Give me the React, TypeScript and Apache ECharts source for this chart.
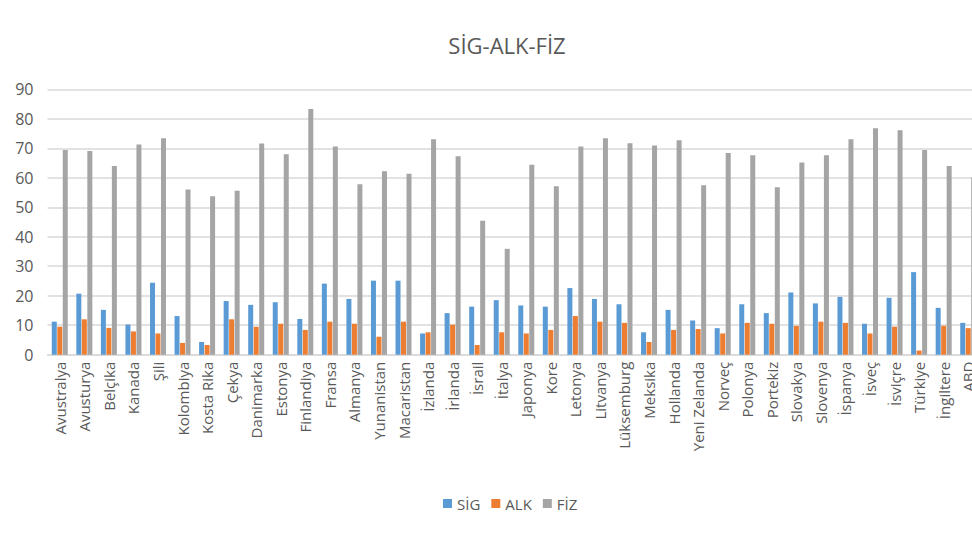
import React, { useEffect, useRef } from "react";
import * as echarts from "echarts";

const categories = [
  "Avustralya", "Avusturya", "Belçika", "Kanada", "Şili", "Kolombiya", "Kosta Rika", "Çekya",
  "Danimarka", "Estonya", "Finlandiya", "Fransa", "Almanya", "Yunanistan", "Macaristan", "İzlanda",
  "İrlanda", "İsrail", "İtalya", "Japonya", "Kore", "Letonya", "Litvanya", "Lüksemburg", "Meksika",
  "Hollanda", "Yeni Zelanda", "Norveç", "Polonya", "Portekiz", "Slovakya", "Slovenya", "İspanya",
  "İsveç", "İsviçre", "Türkiye", "İngiltere", "ABD",
];

const sig = [
  11.2, 20.7, 15.2, 10.2, 24.4, 13.1, 4.3, 18.2, 16.9, 17.8, 12.1, 24.1, 18.9, 25.1, 25.1, 7.2,
  14.1, 16.3, 18.5, 16.7, 16.3, 22.6, 18.9, 17.1, 7.6, 15.2, 11.6, 9.0, 17.1, 14.1, 21.1, 17.4,
  19.6, 10.5, 19.3, 28.0, 15.9, 10.8,
];

const alk = [
  9.5, 12.0, 9.1, 7.9, 7.2, 4.0, 3.3, 12.0, 9.5, 10.5, 8.4, 11.2, 10.5, 6.1, 11.2, 7.6, 10.2,
  3.3, 7.6, 7.2, 8.4, 13.1, 11.2, 10.8, 4.3, 8.4, 8.7, 7.2, 10.8, 10.5, 9.8, 11.2, 10.8, 7.2,
  9.5, 1.4, 9.8, 9.0,
];

const fiz = [
  69.4, 69.1, 64.0, 71.3, 73.4, 56.0, 53.7, 55.6, 71.6, 68.0, 83.3, 70.6, 57.8, 62.2, 61.4,
  73.1, 67.3, 45.4, 35.9, 64.4, 57.1, 70.6, 73.4, 71.7, 70.9, 72.7, 57.5, 68.4, 67.6, 56.8,
  65.2, 67.6, 73.1, 76.8, 76.1, 69.4, 64.0, 60.1,
];

const seriesNames = ["SİG", "ALK", "FİZ"];
const colors = ["#5b9bd5", "#ed7d31", "#a5a5a5"];

const FONT = "'Open Sans', 'Noto Sans', sans-serif";

export default function App() {
  const ref = useRef<HTMLDivElement>(null);

  useEffect(() => {
    if (!ref.current) return;
    const chart = echarts.init(ref.current, null, { renderer: "svg" });
    const data = [sig, alk, fiz];
    chart.setOption({
      animation: false,
      backgroundColor: "#ffffff",
      color: colors,
      title: {
        text: "SİG-ALK-FİZ",
        left: 502,
        top: 29,
        textAlign: "center",
        textStyle: { fontFamily: FONT, fontSize: 22, fontWeight: "normal", color: "#595959" },
      },
      legend: {
        bottom: 19,
        left: 438,
        itemWidth: 9,
        itemHeight: 9,
        itemGap: 11,
        icon: "rect",
        textStyle: { fontFamily: FONT, fontSize: 15, color: "#595959" },
        data: seriesNames,
      },
      grid: {
        left: 47.5,
        top: 89.3,
        height: 265.4,
        width: 933,
        containLabel: false,
        outerBoundsMode: "none",
      },
      xAxis: {
        type: "category",
        data: categories,
        axisLine: { show: true, lineStyle: { color: "#d9d9d9", width: 1.5 } },
        axisTick: { show: false },
        axisLabel: {
          rotate: 90,
          interval: 0,
          margin: 7,
          fontFamily: FONT,
          fontSize: 15,
          color: "#595959",
        },
      },
      yAxis: {
        type: "value",
        min: 0,
        max: 90,
        interval: 10,
        axisLine: { show: false },
        axisTick: { show: false },
        splitLine: { lineStyle: { color: "#d9d9d9", width: 1.5 } },
        axisLabel: { margin: 14, fontFamily: FONT, fontSize: 16, color: "#595959" },
      },
      series: seriesNames.map((name, i) => ({
        name,
        type: "bar",
        data: data[i],
        barWidth: 5,
        barGap: "10%",
        itemStyle: { color: colors[i] },
      })),
    });
    return () => chart.dispose();
  }, []);

  return (
    <div
      ref={ref}
      style={{ position: "absolute", left: 0, top: 0, width: 972, height: 535 }}
    />
  );
}
